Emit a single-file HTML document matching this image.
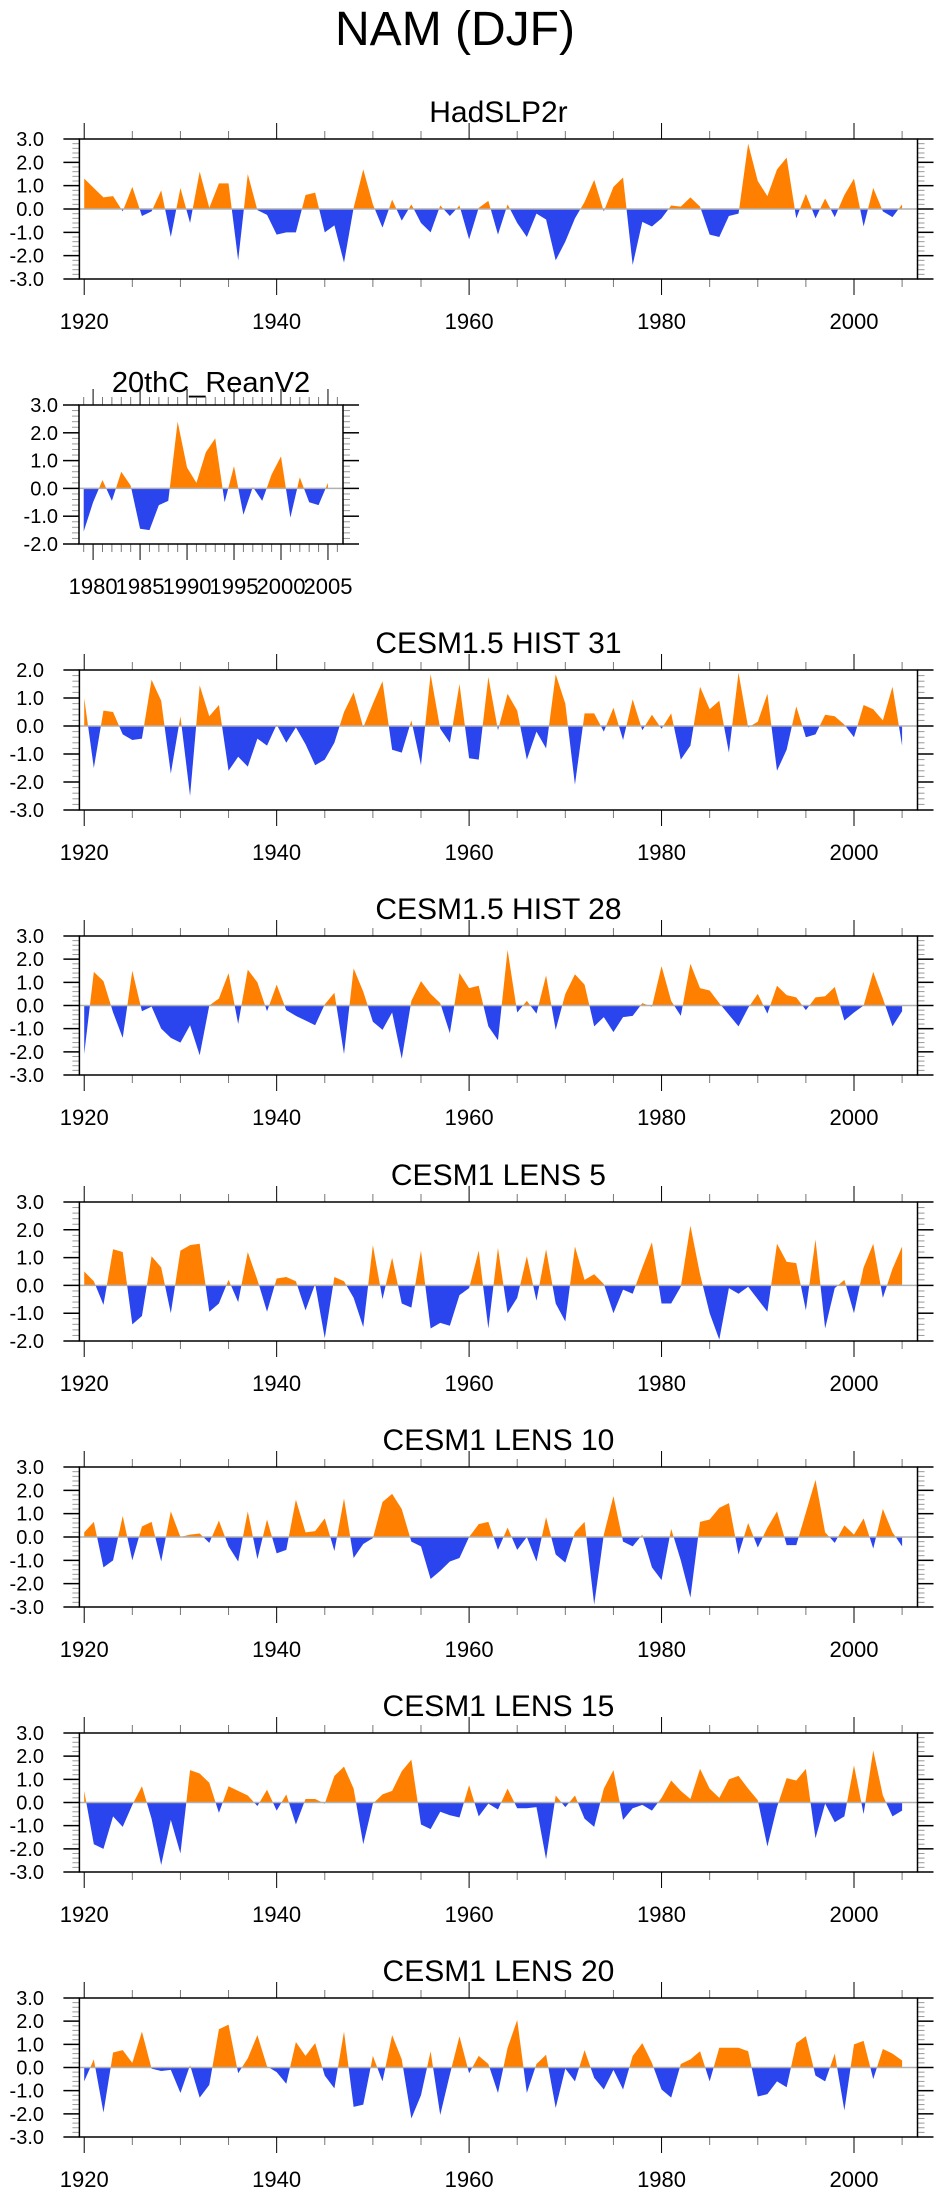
<!DOCTYPE html>
<html><head><meta charset="utf-8">
<style>
html,body{margin:0;padding:0;background:#fff;}
svg{display:block;font-family:"Liberation Sans",Arial,sans-serif;}
</style></head>
<body>
<svg id="chart" width="943" height="2196" viewBox="0 0 943 2196" xmlns="http://www.w3.org/2000/svg">
<text x="455" y="45" font-size="48" text-anchor="middle">NAM (DJF)</text>
</svg>
<script>
const yearsLong = Array.from({length:86},(_, i)=>1920+i);
const yearsRean = Array.from({length:27},(_, i)=>1979+i);
const hadslp = [1.3,0.9,0.5,0.55,-0.1,0.95,-0.3,-0.1,0.8,-1.2,0.9,-0.6,1.6,0.05,1.1,1.1,-2.2,1.5,-0.05,-0.25,-1.1,-1.0,-1.0,0.6,0.7,-1.0,-0.7,-2.3,0.05,1.7,0.2,-0.8,0.4,-0.5,0.2,-0.6,-1.0,0.15,-0.3,0.15,-1.3,0.05,0.35,-1.1,0.2,-0.6,-1.2,-0.2,-0.45,-2.2,-1.4,-0.4,0.3,1.25,-0.1,0.95,1.35,-2.4,-0.55,-0.75,-0.4,0.15,0.1,0.5,0.1,-1.1,-1.2,-0.3,-0.2,2.8,1.2,0.55,1.7,2.2,-0.4,0.65,-0.4,0.45,-0.35,0.6,1.3,-0.75,0.9,-0.1,-0.35,0.2];
const rean = [-1.55,-0.5,0.3,-0.45,0.6,0.1,-1.45,-1.5,-0.6,-0.45,2.4,0.75,0.2,1.3,1.8,-0.5,0.8,-0.95,0.05,-0.45,0.5,1.15,-1.05,0.4,-0.5,-0.6,0.2];
const hist31 = [1.0,-1.5,0.55,0.5,-0.3,-0.5,-0.45,1.65,0.9,-1.7,0.35,-2.5,1.45,0.35,0.75,-1.6,-1.1,-1.45,-0.45,-0.7,0.05,-0.6,-0.05,-0.65,-1.4,-1.2,-0.6,0.5,1.2,-0.05,0.8,1.6,-0.85,-0.95,0.2,-1.4,1.85,-0.1,-0.6,1.5,-1.15,-1.2,1.75,-0.15,1.15,0.55,-1.2,-0.2,-0.8,1.85,0.8,-2.1,0.45,0.45,-0.2,0.65,-0.5,0.95,-0.15,0.4,-0.1,0.45,-1.2,-0.7,1.4,0.6,0.9,-0.95,1.9,-0.05,0.15,1.15,-1.6,-0.85,0.7,-0.4,-0.3,0.4,0.35,0.05,-0.4,0.75,0.6,0.2,1.4,-0.7];
const hist28 = [-2.1,1.45,1.05,-0.3,-1.4,1.5,-0.25,-0.05,-1.0,-1.4,-1.6,-0.85,-2.15,0.0,0.3,1.4,-0.8,1.55,1.0,-0.25,0.9,-0.2,-0.45,-0.65,-0.85,0.05,0.55,-2.1,1.6,0.6,-0.7,-1.05,-0.3,-2.3,0.2,1.05,0.5,0.1,-1.2,1.4,0.75,0.85,-0.9,-1.5,2.4,-0.3,0.2,-0.35,1.3,-1.05,0.5,1.35,0.9,-0.9,-0.5,-1.15,-0.5,-0.45,0.1,-0.05,1.7,0.2,-0.45,1.8,0.75,0.65,0.1,-0.4,-0.9,-0.1,0.5,-0.35,0.85,0.45,0.35,-0.2,0.35,0.4,0.8,-0.65,-0.3,0.0,1.45,0.3,-0.9,-0.25];
const lens5 = [0.5,0.15,-0.7,1.3,1.2,-1.4,-1.1,1.05,0.65,-1.0,1.25,1.45,1.5,-0.95,-0.65,0.2,-0.6,1.2,0.2,-0.95,0.25,0.3,0.15,-0.9,0.05,-1.9,0.3,0.15,-0.45,-1.5,1.45,-0.5,1.0,-0.65,-0.8,1.25,-1.55,-1.35,-1.45,-0.35,-0.1,1.25,-1.55,1.35,-1.0,-0.45,1.05,-0.55,1.3,-0.65,-1.3,1.4,0.2,0.4,0.05,-1.0,-0.15,-0.3,0.65,1.55,-0.65,-0.65,-0.05,2.15,0.4,-1.0,-1.95,-0.1,-0.3,-0.05,-0.5,-0.95,1.5,0.85,0.8,-0.9,1.65,-1.55,-0.1,0.2,-1.0,0.65,1.5,-0.45,0.6,1.4];
const lens10 = [0.2,0.65,-1.3,-1.0,0.9,-1.0,0.45,0.65,-1.05,1.1,0.0,0.1,0.15,-0.25,0.7,-0.4,-1.05,1.1,-0.95,0.75,-0.7,-0.55,1.6,0.2,0.25,0.8,-0.6,1.65,-0.9,-0.3,-0.05,1.5,1.85,1.2,-0.2,-0.4,-1.8,-1.45,-1.05,-0.9,0.0,0.55,0.65,-0.55,0.4,-0.55,0.0,-1.05,0.85,-0.75,-1.1,0.2,0.65,-2.9,0.1,1.75,-0.2,-0.4,0.1,-1.3,-1.85,0.35,-1.0,-2.6,0.65,0.75,1.25,1.45,-0.75,0.6,-0.45,0.4,1.1,-0.35,-0.35,1.05,2.45,0.2,-0.25,0.5,0.1,0.8,-0.5,1.2,0.2,-0.4];
const lens15 = [0.5,-1.8,-2.0,-0.6,-1.05,-0.1,0.7,-0.7,-2.7,-0.75,-2.2,1.4,1.25,0.85,-0.45,0.7,0.5,0.3,-0.15,0.55,-0.35,0.35,-0.95,0.15,0.15,-0.05,1.15,1.55,0.6,-1.8,-0.05,0.35,0.5,1.35,1.85,-0.95,-1.15,-0.4,-0.55,-0.65,0.75,-0.6,-0.05,-0.3,0.6,-0.25,-0.25,-0.2,-2.45,0.3,-0.2,0.3,-0.7,-1.05,0.6,1.4,-0.75,-0.25,-0.1,-0.35,0.2,0.95,0.5,0.15,1.45,0.6,0.2,1.0,1.15,0.6,0.1,-1.9,-0.2,1.05,0.95,1.45,-1.55,-0.05,-0.85,-0.6,1.6,-0.5,2.25,0.3,-0.6,-0.35];
const lens20 = [-0.6,0.35,-1.95,0.65,0.75,0.2,1.55,-0.05,-0.15,-0.1,-1.1,0.1,-1.3,-0.75,1.65,1.85,-0.25,0.4,1.4,0.05,-0.2,-0.7,1.1,0.5,1.05,-0.35,-0.9,1.55,-1.7,-1.6,0.5,-0.6,1.4,0.35,-2.2,-1.2,0.7,-2.05,-0.3,1.35,-0.25,0.5,0.15,-1.1,0.85,2.05,-1.1,0.15,0.55,-1.75,-0.05,-0.6,0.75,-0.45,-0.95,-0.1,-0.95,0.5,1.05,0.2,-0.95,-1.3,0.15,0.35,0.7,-0.6,0.85,0.85,0.85,0.7,-1.25,-1.15,-0.6,-0.85,1.05,1.35,-0.35,-0.6,0.6,-1.85,1.0,1.15,-0.5,0.8,0.6,0.3];
const yTicksA = [-3,-2,-1,0,1,2,3];
const yTicksB = [-2,-1,0,1,2,3];
const yTicksC = [-3,-2,-1,0,1,2];
const xTicksLong = [1920,1940,1960,1980,2000];
const xTicksRean = [1980,1985,1990,1995,2000,2005];

const NS="http://www.w3.org/2000/svg";
const svg=document.getElementById('chart');
function mk(tag,attrs,parent){const e=document.createElementNS(NS,tag);for(const k in attrs)e.setAttribute(k,attrs[k]);(parent||svg).appendChild(e);return e;}

let clipId=0;
function panel(cfg){
  const g=mk('g',{});
  
  
  const L=cfg.left,R=cfg.right,T=cfg.top,B=cfg.bottom;
  const xs=y=>L+(y-cfg.x0)*(R-L)/(cfg.x1-cfg.x0);
  const ys=v=>T+(cfg.ymax-v)*(B-T)/(cfg.ymax-cfg.ymin);
  const z=ys(0);
  const t=mk('text',{x:(L+R)/2,y:T-cfg.tOff,'font-size':cfg.tfs,'text-anchor':'middle'},g);
  t.textContent=cfg.title;
  
  
  let d=`M${xs(cfg.years[0]).toFixed(2)},${z.toFixed(2)}`;
  cfg.values.forEach((v,i)=>{d+=` L${xs(cfg.years[i]).toFixed(2)},${ys(v).toFixed(2)}`;});
  d+=` L${xs(cfg.years[cfg.years.length-1]).toFixed(2)},${z.toFixed(2)} Z`;
  const idA='ca'+(clipId),idB='cb'+(clipId++);
  const defs=mk('defs',{},g);
  const cA=mk('clipPath',{id:idA},defs);mk('rect',{x:L,y:T,width:R-L,height:z-T},cA);
  const cB=mk('clipPath',{id:idB},defs);mk('rect',{x:L,y:z,width:R-L,height:B-z},cB);
  const pa=mk('path',{d:d,fill:'#ff8000','clip-path':`url(#${idA})`},g);
  
  
  const pb=mk('path',{d:d,fill:'#2b45ee','clip-path':`url(#${idB})`},g);
  
  
  const zl=mk('line',{x1:L,x2:R,y1:z,y2:z,stroke:'#b0b0b0','stroke-width':1.5},g);
  
  
  for(let v=cfg.ymin;v<=cfg.ymax+1e-6;v+=0.2){
    const yy=ys(v);const maj=Math.abs(v-Math.round(v))<1e-6;
    const len=maj?16:7;const col=maj?'#000':'#999';
    mk('line',{x1:L-len,x2:L,y1:yy,y2:yy,stroke:col,'stroke-width':maj?1.5:1},g);
    mk('line',{x1:R,x2:R+len,y1:yy,y2:yy,stroke:col,'stroke-width':maj?1.5:1},g);
  }
  cfg.yTicks.forEach(v=>{
    const tl=mk('text',{x:cfg.ylabX,y:ys(v)+7,'font-size':20,'text-anchor':'end'},g);
    tl.textContent=v.toFixed(1);
    
    
  });
  for(let yr=Math.ceil(cfg.x0);yr<=cfg.x1;yr+=cfg.minorStep){
    const xx=xs(yr);const maj=(yr-cfg.majorBase)%cfg.majorStep===0;
    const len=maj?16:8;
    mk('line',{x1:xx,x2:xx,y1:T-len,y2:T,stroke:maj?'#000':'#777','stroke-width':1},g);
    mk('line',{x1:xx,x2:xx,y1:B,y2:B+len,stroke:maj?'#000':'#777','stroke-width':1},g);
  }
  cfg.xTicks.forEach(yr=>{
    const tl=mk('text',{x:xs(yr),y:B+50,'font-size':cfg.xfs,'text-anchor':'middle'},g);
    tl.textContent=yr;
    
    
  });
  const fr=mk('rect',{x:L,y:T,width:R-L,height:B-T,fill:'none',stroke:'#000','stroke-width':1.5},g);
  
  
}
const longBase={left:79.4,right:917.5,x0:1919.5,x1:2006.6,minorStep:5,majorStep:20,majorBase:1920,xTicks:xTicksLong,ylabX:44,tfs:30,tOff:17,xfs:22,years:yearsLong};
panel(Object.assign({},longBase,{name:'panel-hadslp2r',title:'HadSLP2r',top:139,bottom:279,ymin:-3,ymax:3,yTicks:yTicksA,values:hadslp}));
panel({name:'panel-20thc-reanv2',title:'20thC_ReanV2',left:79,right:343,x0:1978.5,x1:2006.6,top:405,bottom:544,ymin:-2,ymax:3,yTicks:yTicksB,values:rean,years:yearsRean,minorStep:1,majorStep:5,majorBase:1980,xTicks:xTicksRean,ylabX:58,tfs:29,tOff:13,xfs:22});
panel(Object.assign({},longBase,{name:'panel-cesm15-hist31',title:'CESM1.5 HIST 31',top:670,bottom:810,ymin:-3,ymax:2,yTicks:yTicksC,values:hist31}));
panel(Object.assign({},longBase,{name:'panel-cesm15-hist28',title:'CESM1.5 HIST 28',top:936,bottom:1075,ymin:-3,ymax:3,yTicks:yTicksA,values:hist28}));
panel(Object.assign({},longBase,{name:'panel-cesm1-lens5',title:'CESM1 LENS 5',top:1202,bottom:1341,ymin:-2,ymax:3,yTicks:yTicksB,values:lens5}));
panel(Object.assign({},longBase,{name:'panel-cesm1-lens10',title:'CESM1 LENS 10',top:1467,bottom:1607,ymin:-3,ymax:3,yTicks:yTicksA,values:lens10}));
panel(Object.assign({},longBase,{name:'panel-cesm1-lens15',title:'CESM1 LENS 15',top:1733,bottom:1872,ymin:-3,ymax:3,yTicks:yTicksA,values:lens15}));
panel(Object.assign({},longBase,{name:'panel-cesm1-lens20',title:'CESM1 LENS 20',top:1998,bottom:2137,ymin:-3,ymax:3,yTicks:yTicksA,values:lens20}));
</script>
</body></html>
